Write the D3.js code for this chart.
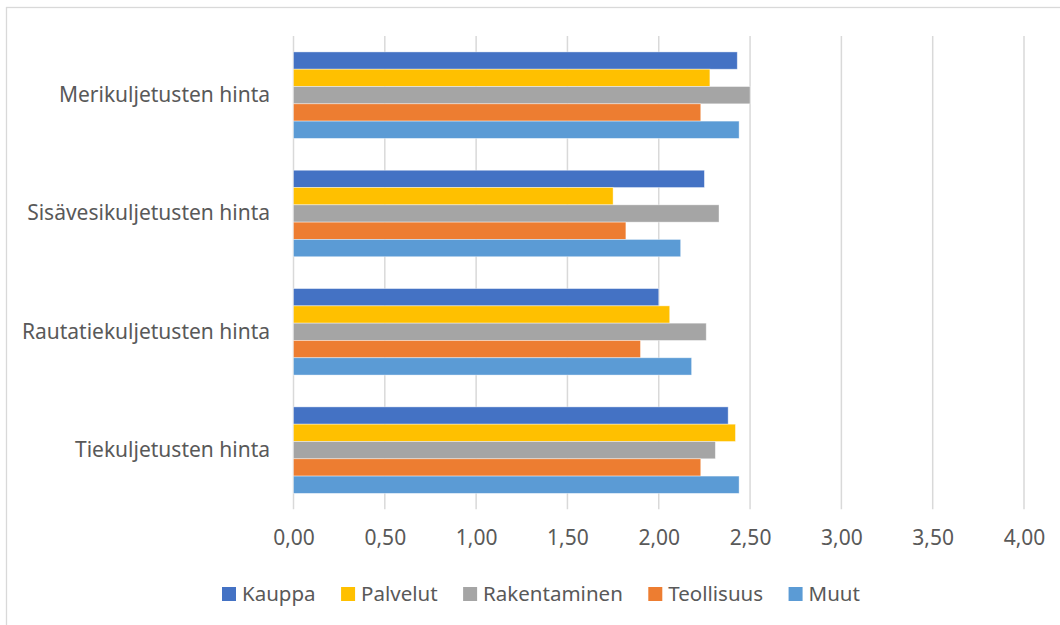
<!DOCTYPE html>
<html>
<head>
<meta charset="utf-8">
<script src="https://cdn.jsdelivr.net/npm/d3@7"></script>
<style>
  body { margin: 0; background: #fff; }
  svg text { font-family: "Noto Sans", "Open Sans", sans-serif; fill: #595959; }
</style>
</head>
<body>
<div id="chart"></div>
<script>
// categories, top to bottom
const categories = ['Merikuljetusten hinta', 'Sisävesikuljetusten hinta', 'Rautatiekuljetusten hinta', 'Tiekuljetusten hinta'];
const seriesNames = ['Kauppa', 'Palvelut', 'Rakentaminen', 'Teollisuus', 'Muut'];
const seriesColors = ['#4472C4', '#FFC000', '#A5A5A5', '#ED7D31', '#5B9BD5'];
// one array per series, same order as categories
const kauppa = [2.43, 2.25, 2.00, 2.38];
const palvelut = [2.28, 1.75, 2.06, 2.42];
const rakentaminen = [2.50, 2.33, 2.26, 2.31];
const teollisuus = [2.23, 1.82, 1.90, 2.23];
const muut = [2.44, 2.12, 2.18, 2.44];
const xTicks = [0, 0.5, 1, 1.5, 2, 2.5, 3, 3.5, 4];

const width = 1060, height = 625;
const plot = {left: 293.5, right: 1024, top: 36, bottom: 509.3};
const fontSize = 21;
const legendFontSize = 20.5;

const seriesValues = [kauppa, palvelut, rakentaminen, teollisuus, muut];

let svg = d3.select('#chart').append('svg').attr('width', width).attr('height', height);

// outer chart border (only left and top visible in the picture)
svg.append('rect').attr('x', 6.5).attr('y', 7.5).attr('width', 1100).attr('height', 700)
    .attr('fill', 'none').attr('stroke', '#D9D9D9').attr('stroke-width', 1.3);

let x = d3.scaleLinear().domain([0, 4]).range([plot.left, plot.right]);
let y = d3.scaleBand().domain(categories).range([plot.top, plot.bottom])
    .paddingInner(0.269).paddingOuter(0.1345);
let ySub = d3.scaleBand().domain(seriesNames).range([0, y.bandwidth()]);

// gridlines
svg.append('g').selectAll('line').data(xTicks).enter().append('line')
    .attr('x1', d => x(d)).attr('x2', d => x(d))
    .attr('y1', plot.top).attr('y2', plot.bottom)
    .attr('stroke', '#D9D9D9').attr('stroke-width', 1.5);

// bars
let groups = svg.append('g').selectAll('g').data(categories).enter().append('g')
    .attr('transform', d => 'translate(0,' + y(d) + ')');

groups.selectAll('rect').data(function(cat, ci) {
        return seriesNames.map((s, si) => ({series: s, value: seriesValues[si][ci], color: seriesColors[si]}));
    }).enter().append('rect')
    .attr('x', x(0))
    .attr('y', d => ySub(d.series))
    .attr('width', d => x(d.value) - x(0))
    .attr('height', ySub.bandwidth())
    .attr('fill', d => d.color)
    .attr('stroke', '#ffffff').attr('stroke-opacity', 0.5).attr('stroke-width', 0.8);

// x axis labels
let xAxis = d3.axisBottom(x).tickValues(xTicks).tickSize(0).tickPadding(0)
    .tickFormat(d => d3.format('.2f')(d).replace('.', ','));
let xg = svg.append('g').attr('transform', 'translate(0,' + 530 + ')').call(xAxis);
xg.select('.domain').remove();
xg.selectAll('text').attr('font-size', fontSize).attr('dy', '0.71em').attr('fill', '#595959')
    .style('font-family', '"Noto Sans", "Open Sans", sans-serif');

// y axis labels
let yAxis = d3.axisLeft(y).tickSize(0).tickPadding(0);
let yg = svg.append('g').attr('transform', 'translate(270,0)').call(yAxis);
yg.select('.domain').remove();
yg.selectAll('text').attr('font-size', fontSize).attr('fill', '#595959')
    .style('font-family', '"Noto Sans", "Open Sans", sans-serif');

// legend
let legend = svg.append('g').attr('transform', 'translate(222,587)');
let lx = 0;
seriesNames.forEach(function(name, i) {
    let item = legend.append('g').attr('transform', 'translate(' + lx + ',0)');
    item.append('rect').attr('width', 14).attr('height', 14).attr('fill', seriesColors[i]);
    let t = item.append('text').attr('x', 20).attr('y', 7).attr('dy', '0.35em')
        .attr('font-size', legendFontSize).text(name);
    lx += 20 + t.node().getComputedTextLength() + 25.5;
});
</script>
</body>
</html>
